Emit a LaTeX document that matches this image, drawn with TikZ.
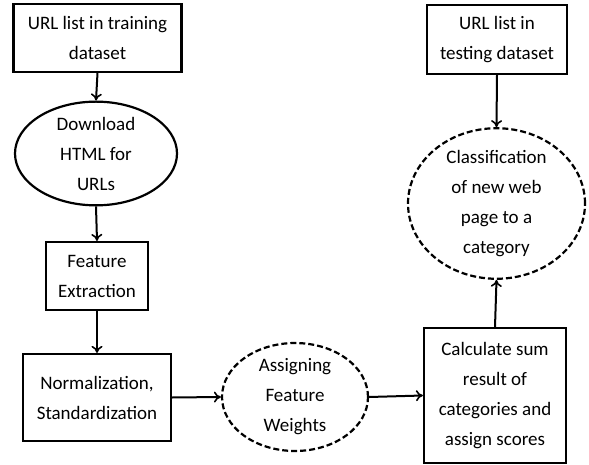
\documentclass[tikz,border=0pt]{standalone}
\usepackage{fontspec}
\setmainfont{Carlito}
\usetikzlibrary{shapes.geometric,arrows.meta}
\begin{document}
\begin{tikzpicture}[x=1pt,y=-1pt,
  every node/.style={font=\fontsize{19}{30}\selectfont, align=center, inner sep=0pt},
  box/.style={draw, rectangle, line width=2.2pt},
  oval/.style={draw, ellipse, line width=2.2pt},
  dashoval/.style={draw, ellipse, line width=2.2pt, dash pattern=on 6pt off 3pt},
  conn/.style={line width=2pt, -{To[length=7pt,width=11pt,line width=1.6pt]}}]
\useasboundingbox (0,0) rectangle (589,465);
\node[box, minimum width=168pt, minimum height=68pt] (b1) at (97.5,38) {URL list in training\\dataset};
\node[oval, minimum width=162pt, minimum height=93pt] (e1) at (96,153.5) {Download\\HTML for\\URLs};
\node[box, minimum width=102pt, minimum height=68pt] (b2) at (97,276) {Feature\\Extraction};
\node[box, minimum width=148pt, minimum height=87pt] (b3) at (97,397.5) {Normalization,\\Standardization};
\node[dashoval, minimum width=146pt, minimum height=100pt] (e2) at (295,397) {Assigning\\Feature\\Weights};
\node[box, minimum width=142pt, minimum height=135pt] (b4) at (495,395.5) {Calculate sum\\result of\\categories and\\assign scores};
\node[dashoval, minimum width=177pt, minimum height=137pt] (e3) at (496.5,203.5) {Classification\\of new web\\page to a\\category};
\node[box, minimum width=140pt, minimum height=69pt] (b5) at (497,39.5) {URL list in\\testing dataset};
\draw[conn] (b1.south) -- (e1.north);
\draw[conn] (e1.south) -- (b2.north);
\draw[conn] (b2.south) -- (b3.north);
\draw[conn] (b3.east) -- (e2.west);
\draw[conn] (e2.east) -- (b4.west);
\draw[conn] (b4.north) -- (e3.south);
\draw[conn] (b5.south) -- (e3.north);
\end{tikzpicture}
\end{document}
